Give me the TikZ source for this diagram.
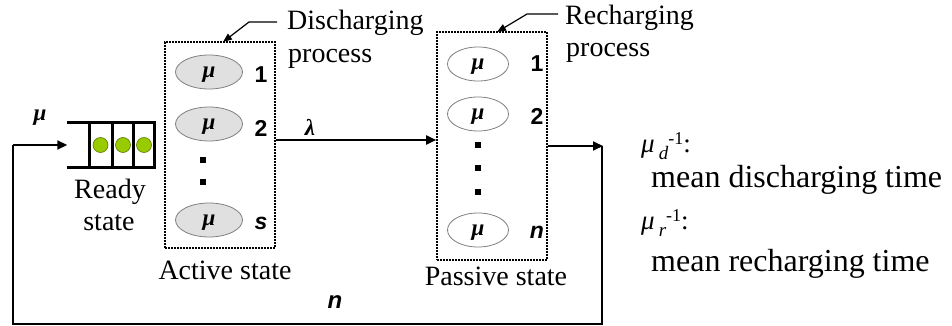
\documentclass[tikz,border=0pt]{standalone}
\usepackage{fontspec}
\setmainfont{Liberation Serif}
\newfontfamily\arialf{Liberation Sans}
\usetikzlibrary{shapes.geometric,arrows.meta}
\definecolor{ballgreen}{RGB}{153,204,0}
\definecolor{balledge}{RGB}{90,120,0}
\begin{document}
\begin{tikzpicture}[x=1pt,y=-1pt,
  lbl/.style={font=\fontsize{28}{32}\selectfont, inner sep=0pt},
  leg/.style={font=\fontsize{32}{36}\selectfont, inner sep=0pt, anchor=base west},
  legmu/.style={font=\fontsize{27}{30}\selectfont, inner sep=0pt, anchor=base west},
  num/.style={font=\arialf\bfseries\fontsize{23}{23}\selectfont, inner sep=0pt},
  greek/.style={font=\bfseries\itshape\fontsize{23}{23}\selectfont, inner sep=0pt},
  musty/.style={ellipse, draw=black!50, line width=0.8pt, minimum height=34pt, inner sep=0pt, text height=11pt, text depth=0pt, font=\bfseries\itshape\fontsize{23}{23}\selectfont},
  act/.style={musty, fill=black!12, minimum width=67pt},
  pas/.style={musty, fill=white, minimum width=61pt},
  grp/.style={draw, line width=1.6pt, dash pattern=on 1.6pt off 1.4pt, inner sep=0pt},
  sq/.style={fill=black, minimum size=6.5pt, inner sep=0pt},
  arr/.style={line width=1.8pt, -{Triangle[length=10pt,width=9pt]}},
  call/.style={line width=1.2pt, -{Triangle[length=9pt,width=7pt]}},
  bar/.style={line width=3pt},
  ball/.style={circle, fill=ballgreen, draw=balledge, line width=0.6pt, minimum size=15pt, inner sep=0pt}
]
\useasboundingbox (0,0) rectangle (952,326);

% queue
\node[minimum width=88pt, minimum height=44pt, inner sep=0pt] (queue) at (111.5,145) {};
\draw[bar] (queue.north west) -- (queue.north east);
\draw[bar] (queue.south west) -- (queue.south east);
\foreach \x in {89,112,133,154} \draw[bar] (\x,123) -- (\x,167);
\node[ball] (b1) at (100.5,145) {};
\node[ball] (b2) at (123,145) {};
\node[ball] (b3) at (144,145) {};
\node[greek] (muq) at (40,118) {μ};
\node[lbl] (ready) at (110,192) {Ready};
\node[lbl] (rstate) at (109,223) {state};

% active group
\node[grp, minimum width=110pt, minimum height=206pt] (abox) at (220,145) {};
\node[act] (a1) at (209,72) {μ};
\node[act] (a2) at (209,124) {μ};
\node[act] (as) at (209,220) {μ};
\node[num] (na1) at (261,75) {1};
\node[num] (na2) at (261,128) {2};
\node[num] (nas) at (261,223) {\itshape s};
\node[sq] (ad1) at (203,160) {};
\node[sq] (ad2) at (203,182) {};
\node[lbl] (actl) at (225,270) {Active state};

% passive group
\node[grp, minimum width=110pt, minimum height=228pt] (pbox) at (492,146) {};
\node[pas] (p1) at (478,64) {μ};
\node[pas] (p2) at (478,114) {μ};
\node[pas] (pn) at (478,230) {μ};
\node[num] (np1) at (537,64) {1};
\node[num] (np2) at (537,116) {2};
\node[num] (npn) at (537,232) {\itshape n};
\node[sq] (pd1) at (478,145) {};
\node[sq] (pd2) at (478,168) {};
\node[sq] (pd3) at (478,192) {};
\node[lbl] (pasl) at (496,276) {Passive state};

% callouts
\node[lbl, anchor=base west] (dt1) at (287,30) {Discharging};
\node[lbl, anchor=base west] (dt2) at (288,63) {process};
\coordinate (ds) at (277,22);
\coordinate (dk) at (249,22);
\coordinate (dtip) at (223,42);
\draw[call] (ds) -- (dk) -- (dtip);
\node[lbl, anchor=base west] (rt1) at (565,25) {Recharging};
\node[lbl, anchor=base west] (rt2) at (566,57) {process};
\coordinate (rs) at (558,14);
\coordinate (rk) at (527,14);
\coordinate (rtip) at (497,32);
\draw[call] (rs) -- (rk) -- (rtip);

% flow
\draw[arr] ([yshift=5pt]abox.east) -- ([yshift=6pt]pbox.west);
\node[greek] (lam) at (310,127) {λ};
\coordinate (c1) at (603,146);
\coordinate (c2) at (602,324);
\coordinate (c3) at (13,324);
\coordinate (c4) at (13,145);
\draw[arr] (pbox.east) -- (c1);
\draw[line width=1.8pt] ([xshift=-1pt]c1) -- (c2) -- (c3) -- (c4);
\draw[arr] (c4) -- (queue.west);
\node[num, font=\arialf\bfseries\itshape\fontsize{24}{24}\selectfont] (nb) at (335,302) {n};

% legend
\node[legmu] (ld) at (641,152) {{\itshape μ}\hspace{4pt}\raisebox{-7pt}{\itshape\fontsize{19}{19}\selectfont d}\raisebox{8pt}{\fontsize{18}{18}\selectfont -1}:};
\node[leg] (ldt) at (651,187) {mean discharging time};
\node[legmu] (lr) at (641,229) {{\itshape μ}\hspace{4pt}\raisebox{-7pt}{\itshape\fontsize{19}{19}\selectfont r}\raisebox{8pt}{\fontsize{18}{18}\selectfont -1}:};
\node[leg] (lrt) at (651,271) {mean recharging time};
\end{tikzpicture}
\end{document}
